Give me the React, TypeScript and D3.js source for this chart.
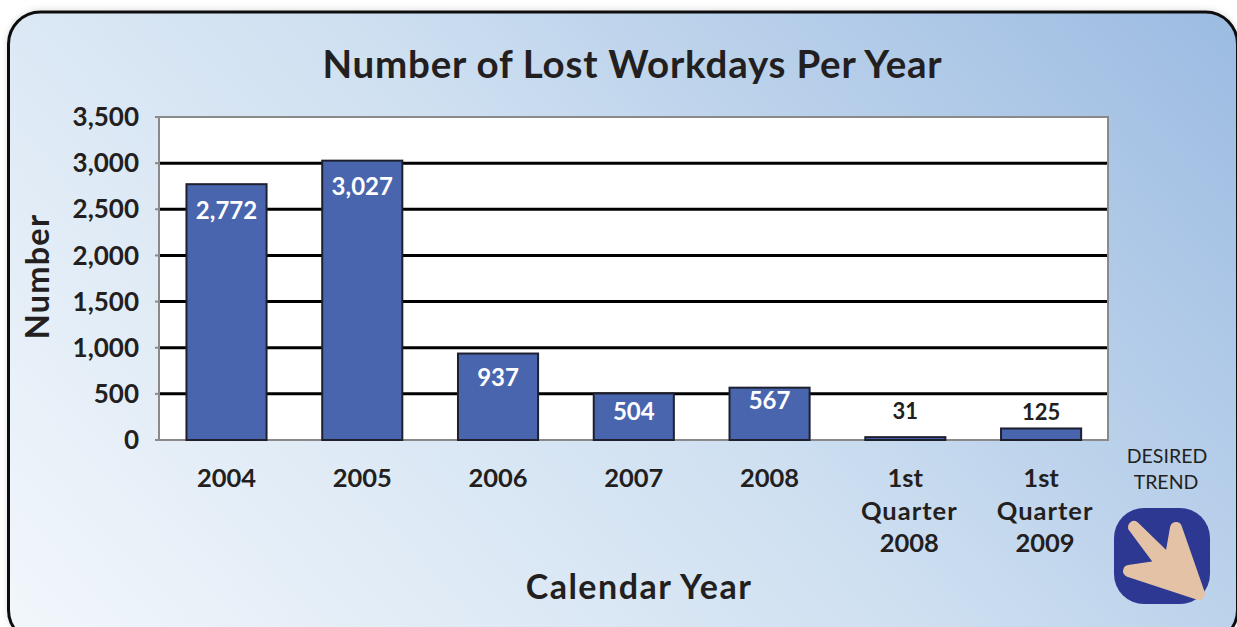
import React from "react";
import * as d3 from "d3";

const categories = ["2004", "2005", "2006", "2007", "2008", "Q1 2008", "Q1 2009"];
const values = [2772, 3027, 937, 504, 567, 31, 125];
const categoryLines = [["2004"], ["2005"], ["2006"], ["2007"], ["2008"], ["1st", "Quarter", "2008"], ["1st", "Quarter", "2009"]];
const tickValues = [0, 500, 1000, 1500, 2000, 2500, 3000, 3500];
const labelNudge = [26, 26, 24, 18, 13, -26, -16];
const FONT = "Lato, 'Open Sans', sans-serif";
const INK = "#231f20";

export default function App() {
  const x = d3.scaleBand<string>().domain(categories).range([159.3, 1108.3]).paddingInner(0.41).paddingOuter(0.2);
  const y = d3.scaleLinear().domain([0, 3500]).range([440, 117]);
  const fmt = d3.format(",");
  return (
    <svg width={1237} height={627} style={{ position: "absolute", left: 0, top: 0, background: "#fff" }} fontFamily={FONT}>
      <defs>
        <linearGradient id="bg" gradientUnits="userSpaceOnUse" x1={150} y1={760} x2={1090} y2={-120}>
          <stop offset="0" stopColor="#f1f6fb" />
          <stop offset="0.5" stopColor="#cfe0f1" />
          <stop offset="1" stopColor="#9dbce2" />
        </linearGradient>
        <filter id="soft" x="-2%" y="-4%" width="104%" height="108%">
          <feDropShadow dx={0} dy={-1} stdDeviation={3} floodColor="#000" floodOpacity={0.12} />
        </filter>
      </defs>
      <rect x={8.5} y={12} width={1229} height={630} rx={32} fill="url(#bg)" stroke="#111" strokeWidth={3} filter="url(#soft)" />

      <text x={632.5} y={78} textAnchor="middle" fontSize={38.5} letterSpacing={0.77} fontWeight={700} fill={INK}>Number of Lost Workdays Per Year</text>

      <rect x={159} y={117} width={949} height={323} fill="#fff" stroke="#8a8a8a" strokeWidth={2} />
      {tickValues.filter((t) => t > 0 && t < 3500).map((t) => (
        <line key={t} x1={160} x2={1107} y1={y(t)} y2={y(t)} stroke="#000" strokeWidth={3} />
      ))}
      {tickValues.map((t) => (
        <g key={t}>
          <line x1={155} x2={159} y1={y(t)} y2={y(t)} stroke="#8a8a8a" strokeWidth={2} />
          <text x={139} y={y(t)} dy="0.35em" textAnchor="end" fontSize={26} fontWeight={700} fill={INK}>{fmt(t)}</text>
        </g>
      ))}
      <text transform="translate(49,276.5) rotate(-90)" textAnchor="middle" fontSize={32.5} letterSpacing={1.2} fontWeight={700} fill={INK}>Number</text>

      {categories.map((c, i) => {
        const v = values[i];
        const bx = x(c)!;
        const inside = labelNudge[i] > 0;
        return (
          <g key={c}>
            <rect x={bx} y={y(v)} width={x.bandwidth()} height={440 - y(v)} fill="#4865ae" stroke="#1e2030" strokeWidth={2} />
            <text x={bx + x.bandwidth() / 2} y={y(v) + labelNudge[i]} dy="0.35em" textAnchor="middle"
              fontSize={inside ? 24 : 22} fontWeight={700} fill={inside ? "#fff" : INK}>{fmt(v)}</text>
            {categoryLines[i].map((line, k) => (
              <text key={k} x={bx + x.bandwidth() / 2 + (i >= 5 && k > 0 ? 4 : 0)} y={487 + k * 32.5} textAnchor="middle" fontSize={25.5}
                letterSpacing={line === "Quarter" ? 1 : 0} fontWeight={700} fill={INK}>{line}</text>
            ))}
          </g>
        );
      })}

      <text x={639} y={599} textAnchor="middle" fontSize={34} letterSpacing={1.5} fontWeight={700} fill={INK}>Calendar Year</text>

      <text x={1167} y={463} textAnchor="middle" fontSize={19.5} fill={INK}>DESIRED</text>
      <text x={1166} y={489} textAnchor="middle" fontSize={19.5} fill={INK}>TREND</text>
      <rect x={1114} y={508} width={96} height={96} rx={30} fill="#2c3892" />
      <path d="M1134 527 L1170 562 L1176 528 L1199 594 L1129 571 L1163 566 Z" fill="#e3c2a6" stroke="#e3c2a6" strokeWidth={12} strokeLinejoin="round" />
    </svg>
  );
}
